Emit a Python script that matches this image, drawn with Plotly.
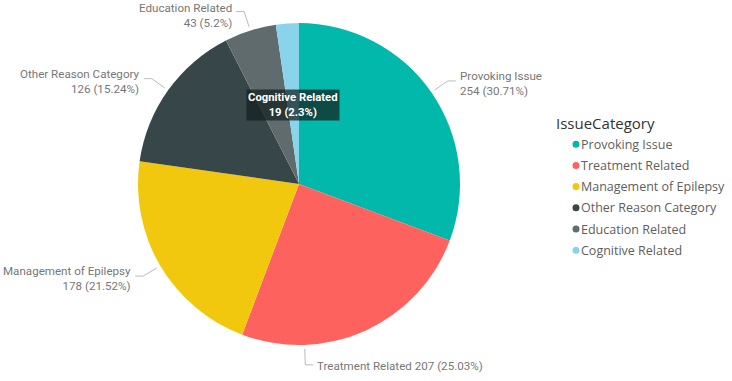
import math
import plotly.graph_objects as go

# ---- data ----
categories = ["Provoking Issue", "Treatment Related", "Management of Epilepsy",
              "Other Reason Category", "Education Related", "Cognitive Related"]
counts = [254, 207, 178, 126, 43, 19]
colors = ["#01B8AA", "#FD625E", "#F2C80F", "#374649", "#5F6B6D", "#8AD4EB"]
legend_title = "IssueCategory"

# ---- layout constants (pixels) ----
W, H = 732, 381
CX, CY, R = 299, 184, 161
label_mode = {"Treatment Related": "below", "Cognitive Related": "inside"}
label_angle_override = {"Treatment Related": 178}
LEG_X, LEG_Y0, LEG_DY = 556, 123, 21.2

def px(x):
    return x / W

def py(y):
    return 1 - y / H

total = sum(counts)
pcts = [f"{round(c / total * 100, 2):g}%" for c in counts]

fig = go.Figure(go.Pie(
    labels=categories, values=counts, sort=False, direction="clockwise",
    rotation=0, marker=dict(colors=colors, line=dict(width=0)),
    textinfo="none", hoverinfo="skip", showlegend=False,
    domain=dict(x=[px(CX - R), px(CX + R)], y=[py(CY + R), py(CY - R)]),
))

annotations = []
shapes = []
label_font = dict(family="Roboto", size=11.6, color="#777777")
cum = 0
for cat, c, pct in zip(categories, counts, pcts):
    a0 = cum / total * 360
    cum += c
    a1 = cum / total * 360
    mid = (a0 + a1) / 2
    mode = label_mode.get(cat, "outside")
    ang = math.radians(label_angle_override.get(cat, mid))
    sx, sy = math.sin(ang), -math.cos(ang)
    if mode == "inside":
        bx, by = CX + R * 0.49 * sx, CY + R * 0.49 * sy
        annotations.append(dict(
            x=px(bx), y=py(by), xref="paper", yref="paper", showarrow=False,
            xanchor="center", yanchor="middle",
            text=f"<b>{cat}</b><br><b>{c} ({pct})</b>", align="center",
            font=dict(family="Roboto", size=11.3, color="white"),
            bgcolor="rgba(20,32,32,0.72)", borderpad=1,
        ))
        continue
    x0, y0 = CX + (R + 4) * sx, CY + (R + 4) * sy
    x1, y1 = CX + (R + 20) * sx, CY + (R + 20) * sy
    d = 1 if sx >= 0 else -1
    if mode == "below":
        d = 1
    x2 = x1 + 8 * d
    shapes.append(dict(
        type="path", xref="paper", yref="paper",
        path=f"M {px(x0)},{py(y0)} L {px(x1)},{py(y1)} L {px(x2)},{py(y1)}",
        line=dict(color="#BBBBBB", width=1),
    ))
    if mode == "below":
        text = f"{cat} {c} ({pct})"
        ty = y1 + 1
    else:
        text = f"{cat}<br>{c} ({pct})"
        ty = max(y1 + 2.5, 15)
    annotations.append(dict(
        x=px(x2 + 3 * d), y=py(ty), xref="paper", yref="paper",
        showarrow=False, text=text, font=label_font,
        xanchor="left" if d > 0 else "right", yanchor="middle",
        align="left" if d > 0 else "right", borderpad=0,
    ))

# ---- legend (drawn) ----
annotations.append(dict(
    x=px(LEG_X - 2), y=py(LEG_Y0), xref="paper", yref="paper", showarrow=False,
    text=legend_title, xanchor="left", yanchor="middle",
    font=dict(family="Open Sans", size=15, color="#333333"),
))
for i, (cat, col) in enumerate(zip(categories, colors)):
    yy = LEG_Y0 + LEG_DY * (i + 1)
    shapes.append(dict(
        type="circle", xref="paper", yref="paper",
        x0=px(576 - 3.5), x1=px(576 + 3.5), y0=py(yy + 3.5), y1=py(yy - 3.5),
        fillcolor=col, line=dict(width=0),
    ))
    annotations.append(dict(
        x=px(579), y=py(yy), xref="paper", yref="paper", showarrow=False,
        text=cat, xanchor="left", yanchor="middle",
        font=dict(family="Open Sans", size=12.5, color="#605E5C"),
    ))

fig.update_layout(
    width=W, height=H, margin=dict(l=0, r=0, t=0, b=0),
    paper_bgcolor="white", plot_bgcolor="white",
    annotations=annotations, shapes=shapes, showlegend=False,
)
fig.write_html("out.html", config={"displayModeBar": False},
               post_script="document.body.style.margin='0';")
